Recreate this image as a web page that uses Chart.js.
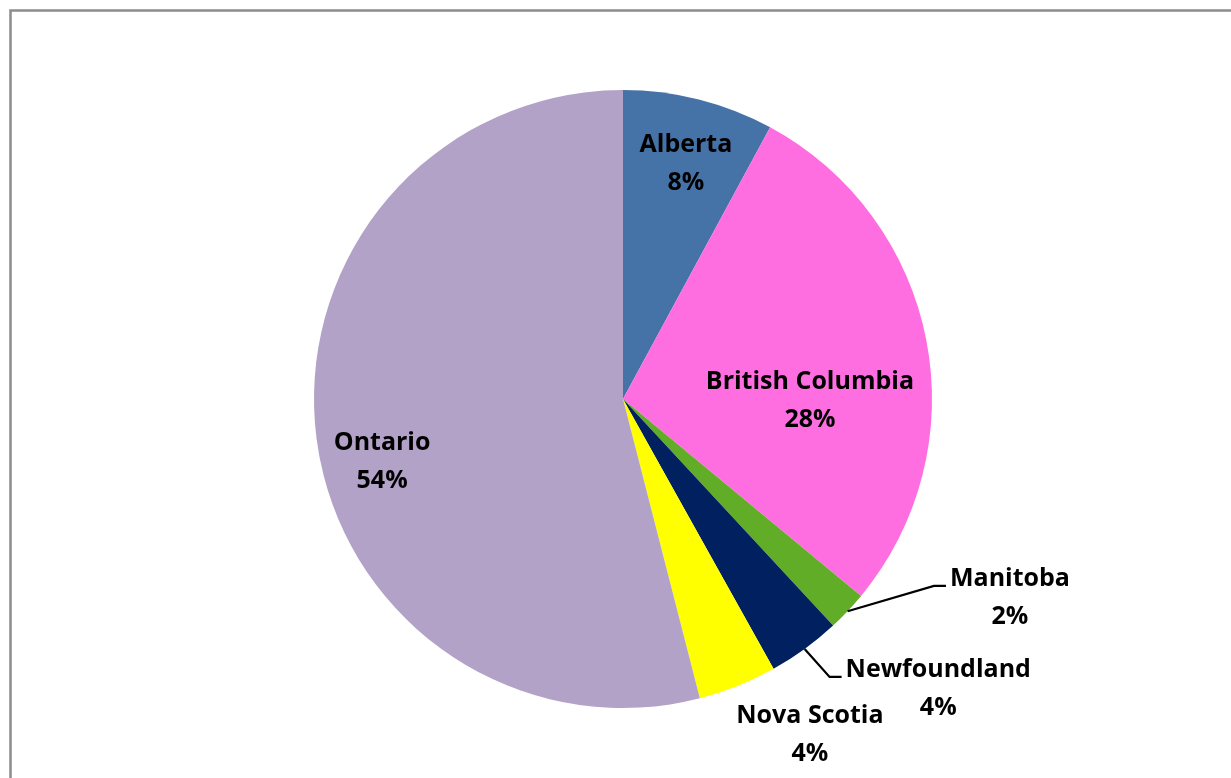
<!DOCTYPE html>
<html>
<head>
<meta charset="utf-8">
<title>Provinces</title>
<script src="https://cdn.jsdelivr.net/npm/chart.js@4.4.1/dist/chart.umd.min.js"></script>
<style>
  html, body { margin: 0; padding: 0; background: #fff; }
  #wrap { position: relative; width: 1231px; height: 778px; }
</style>
</head>
<body>
<div id="wrap"><canvas id="chart" width="1231" height="778"></canvas></div>
<script>
// Share by province (%), clockwise from 12 o'clock
const provinces = ['Alberta', 'British Columbia', 'Manitoba', 'Newfoundland', 'Nova Scotia', 'Ontario'];
const shares = [7.9, 28.1, 2.1, 3.8, 4.1, 54.0];
const sliceColors = ['#4673a7', '#ff6ee0', '#62ad28', '#00205f', '#ffff00', '#b3a2c7'];

// label anchor: [degrees clockwise from top, fraction of radius]
const labelPlace = [[15.0, 0.787], [90.6, 0.605], [117.2, 1.408], [132.6, 1.386], [150.9, 1.244], [255.3, 0.806]];
const hasLeader = [false, false, true, true, false, false];

const FONT = 'bold 25px "Open Sans", Lato, sans-serif';
const LINE_GAP = 38;

const frame = {
  id: 'frame',
  beforeDraw(chart) {
    const c = chart.ctx;
    c.save();
    c.fillStyle = '#fff';
    c.fillRect(0, 0, chart.width, chart.height);
    c.strokeStyle = '#8c8c8c';
    c.lineWidth = 2.5;
    c.beginPath();
    c.moveTo(10.5, chart.height + 5);
    c.lineTo(10.5, 10.5);
    c.lineTo(chart.width + 5, 10.5);
    c.stroke();
    c.restore();
  }
};

const sliceLabels = {
  id: 'sliceLabels',
  afterDatasetsDraw(chart) {
    const c = chart.ctx;
    const arcs = chart.getDatasetMeta(0).data;
    const total = shares.reduce((a, b) => a + b, 0);
    c.save();
    c.font = FONT;
    c.fillStyle = '#000';
    c.textAlign = 'center';
    c.textBaseline = 'middle';
    arcs.forEach((arc, i) => {
      const r = arc.outerRadius;
      const a = labelPlace[i][0] * Math.PI / 180 - Math.PI / 2;
      const lx = arc.x + Math.cos(a) * r * labelPlace[i][1];
      const ly = arc.y + Math.sin(a) * r * labelPlace[i][1];
      const name = provinces[i];
      const pct = Math.round(shares[i] / total * 100) + '%';
      const y1 = ly - LINE_GAP / 2, y2 = ly + LINE_GAP / 2;
      c.fillText(name, lx, y1);
      c.fillText(pct, lx, y2);

      if (hasLeader[i]) {
        const mid = (arc.startAngle + arc.endAngle) / 2;
        const sx = arc.x + Math.cos(mid) * r;
        const sy = arc.y + Math.sin(mid) * r;
        const left = lx - c.measureText(name).width / 2;
        const yy = y1 + 7;
        c.strokeStyle = '#000';
        c.lineWidth = 2.2;
        c.beginPath();
        c.moveTo(sx, sy);
        c.lineTo(left - 16, yy);
        c.lineTo(left - 4, yy);
        c.stroke();
      }
    });
    c.restore();
  }
};

new Chart(document.getElementById('chart'), {
  type: 'pie',
  data: {
    labels: provinces,
    datasets: [{
      data: shares,
      backgroundColor: sliceColors,
      borderWidth: 0
    }]
  },
  options: {
    responsive: false,
    animation: false,
    layout: { padding: { top: 90, bottom: 70, left: 314, right: 299 } },
    plugins: { legend: { display: false }, tooltip: { enabled: false } }
  },
  plugins: [frame, sliceLabels]
});
</script>
</body>
</html>
